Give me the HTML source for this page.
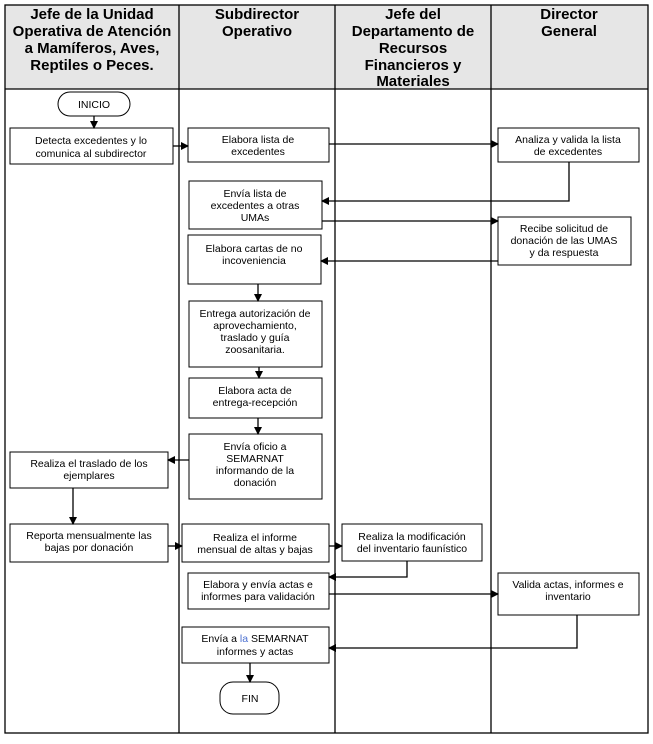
<!DOCTYPE html>
<html><head><meta charset="utf-8"><style>
body{margin:0;background:#fff;width:653px;height:739px;overflow:hidden}
svg text{font-family:"Liberation Sans",sans-serif}
.b{fill:#fff;stroke:#000;stroke-width:1}
.h{font-size:15px;font-weight:bold;text-anchor:middle;fill:#000}
.t{font-size:10.5px;text-anchor:middle;fill:#000}
.l{stroke:#000;stroke-width:1.3;fill:none}
</style></head><body>
<svg width="653" height="739" xmlns="http://www.w3.org/2000/svg">
<defs><marker id="a" markerWidth="8" markerHeight="8" refX="7" refY="4" orient="auto" markerUnits="userSpaceOnUse"><path d="M0,0 L8,4 L0,8 z" fill="#000"/></marker></defs>
<rect x="5" y="5" width="643" height="84" fill="#e6e6e6"/>
<rect x="5" y="5" width="643" height="728" fill="none" stroke="#000" stroke-width="1.3"/>
<line x1="5" y1="89" x2="648" y2="89" stroke="#000" stroke-width="1.3"/>
<line x1="179" y1="5" x2="179" y2="733" stroke="#000" stroke-width="1.3"/>
<line x1="335" y1="5" x2="335" y2="733" stroke="#000" stroke-width="1.3"/>
<line x1="491" y1="5" x2="491" y2="733" stroke="#000" stroke-width="1.3"/>
<text class="h"><tspan x="92" y="19">Jefe de la Unidad</tspan><tspan x="92" y="36">Operativa de Atención</tspan><tspan x="92" y="53">a Mamíferos, Aves,</tspan><tspan x="92" y="70">Reptiles o Peces.</tspan></text>
<text class="h"><tspan x="257" y="19">Subdirector</tspan><tspan x="257" y="36">Operativo</tspan></text>
<text class="h"><tspan x="413" y="19">Jefe del</tspan><tspan x="413" y="36">Departamento de</tspan><tspan x="413" y="53">Recursos</tspan><tspan x="413" y="70">Financieros y</tspan><tspan x="413" y="86">Materiales</tspan></text>
<text class="h"><tspan x="569" y="19">Director</tspan><tspan x="569" y="36">General</tspan></text>

<rect class="b" x="58" y="92" width="72" height="24" rx="12"/><text class="t" x="94" y="108">INICIO</text>
<rect class="b" x="10" y="128" width="163" height="36"/><text class="t"><tspan x="91" y="144">Detecta excedentes y lo</tspan><tspan x="91" y="157">comunica al subdirector</tspan></text>
<rect class="b" x="188" y="128" width="141" height="34"/><text class="t"><tspan x="258" y="143">Elabora lista de</tspan><tspan x="258" y="155">excedentes</tspan></text>
<rect class="b" x="498" y="128" width="141" height="34"/><text class="t"><tspan x="568" y="143">Analiza y valida la lista</tspan><tspan x="568" y="155">de excedentes</tspan></text>
<rect class="b" x="189" y="181" width="133" height="48"/><text class="t"><tspan x="255" y="197">Envía lista de</tspan><tspan x="255" y="209">excedentes a otras</tspan><tspan x="255" y="221">UMAs</tspan></text>
<rect class="b" x="498" y="217" width="133" height="48"/><text class="t"><tspan x="564" y="232">Recibe solicitud de</tspan><tspan x="564" y="244">donación de las UMAS</tspan><tspan x="564" y="256">y da respuesta</tspan></text>
<rect class="b" x="188" y="235" width="133" height="49"/><text class="t"><tspan x="254" y="252">Elabora cartas de no</tspan><tspan x="254" y="264">incoveniencia</tspan></text>
<rect class="b" x="189" y="301" width="133" height="66"/><text class="t"><tspan x="255" y="317">Entrega autorización de</tspan><tspan x="255" y="329">aprovechamiento,</tspan><tspan x="255" y="341">traslado y guía</tspan><tspan x="255" y="353">zoosanitaria.</tspan></text>
<rect class="b" x="189" y="378" width="133" height="40"/><text class="t"><tspan x="255" y="394">Elabora acta de</tspan><tspan x="255" y="406">entrega-recepción</tspan></text>
<rect class="b" x="189" y="434" width="133" height="65"/><text class="t"><tspan x="255" y="450">Envía oficio a</tspan><tspan x="255" y="462">SEMARNAT</tspan><tspan x="255" y="474">informando de la</tspan><tspan x="255" y="486">donación</tspan></text>
<rect class="b" x="10" y="452" width="158" height="36"/><text class="t"><tspan x="89" y="467">Realiza  el traslado de los</tspan><tspan x="89" y="479">ejemplares</tspan></text>
<rect class="b" x="10" y="524" width="158" height="38"/><text class="t"><tspan x="89" y="539">Reporta mensualmente las</tspan><tspan x="89" y="551">bajas por donación</tspan></text>
<rect class="b" x="182" y="524" width="147" height="38"/><text class="t"><tspan x="255" y="541">Realiza el informe</tspan><tspan x="255" y="553">mensual de altas y bajas</tspan></text>
<rect class="b" x="342" y="524" width="140" height="37"/><text class="t"><tspan x="412" y="540">Realiza la modificación</tspan><tspan x="412" y="552">del inventario faunístico</tspan></text>
<rect class="b" x="188" y="573" width="141" height="36"/><text class="t"><tspan x="258" y="588">Elabora y envía actas e</tspan><tspan x="258" y="600">informes para validación</tspan></text>
<rect class="b" x="498" y="573" width="141" height="42"/><text class="t"><tspan x="568" y="588">Valida  actas, informes e</tspan><tspan x="568" y="600">inventario</tspan></text>
<rect class="b" x="182" y="627" width="147" height="36"/><text class="t"><tspan x="255" y="642">Envía a <tspan fill="#4a6fd0">la</tspan> SEMARNAT</tspan><tspan x="255" y="655">informes y actas</tspan></text>
<rect class="b" x="220" y="682" width="59" height="32" rx="13"/><text class="t" x="250" y="702">FIN</text>

<path class="l" marker-end="url(#a)" d="M94,116 V128"/>
<path class="l" marker-end="url(#a)" d="M173,146 H188"/>
<path class="l" marker-end="url(#a)" d="M329,144 H498"/>
<path class="l" marker-end="url(#a)" d="M569,162 V201 H322"/>
<path class="l" marker-end="url(#a)" d="M322,221 H498"/>
<path class="l" marker-end="url(#a)" d="M498,261 H321"/>
<path class="l" marker-end="url(#a)" d="M258,284 V301"/>
<path class="l" marker-end="url(#a)" d="M259,367 V378"/>
<path class="l" marker-end="url(#a)" d="M258,418 V434"/>
<path class="l" marker-end="url(#a)" d="M189,460 H168"/>
<path class="l" marker-end="url(#a)" d="M73,488 V524"/>
<path class="l" marker-end="url(#a)" d="M168,546 H182"/>
<path class="l" marker-end="url(#a)" d="M329,546 H342"/>
<path class="l" marker-end="url(#a)" d="M407,561 V577 H329"/>
<path class="l" marker-end="url(#a)" d="M329,594 H498"/>
<path class="l" marker-end="url(#a)" d="M577,615 V648 H329"/>
<path class="l" marker-end="url(#a)" d="M250,663 V682"/>
</svg>
</body></html>
